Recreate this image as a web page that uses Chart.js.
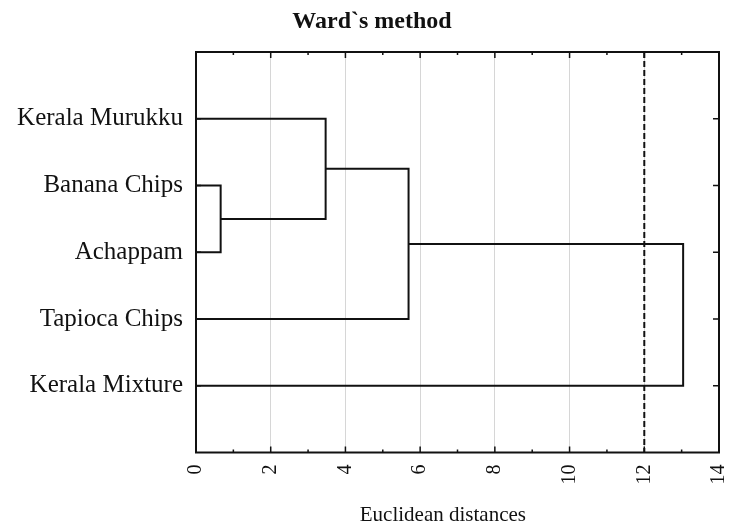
<!DOCTYPE html>
<html>
<head>
<meta charset="utf-8">
<script src="https://cdn.jsdelivr.net/npm/chart.js@4/dist/chart.umd.min.js"></script>
<style>
html,body{margin:0;padding:0;background:#fff;}
#wrap{width:730px;height:531px;position:relative;}
</style>
</head>
<body>
<div id="wrap"><canvas id="c" width="730" height="531"></canvas></div>
<script>
// ---- data ----
const leaves = ['Kerala Murukku', 'Banana Chips', 'Achappam', 'Tapioca Chips', 'Kerala Mixture'];
// merges (scipy-style: new clusters numbered after leaves)
const mergeLeft = [1, 0, 6, 7];
const mergeRight = [2, 5, 3, 4];
const mergeHeight = [0.66, 3.47, 5.69, 13.04];
const cutDistance = 12;
const xTicks = [0, 2, 4, 6, 8, 10, 12, 14];
const titleText = 'Ward`s method';
const xTitleText = 'Euclidean distances';

// ---- build dendrogram segments from the merge table ----
const nodeX = leaves.map(() => 0);
const nodeY = leaves.map((_, i) => i + 1);
const datasets = [];
for (let k = 0; k < mergeHeight.length; k++) {
  const a = mergeLeft[k], b = mergeRight[k], h = mergeHeight[k];
  datasets.push({
    data: [
      {x: nodeX[a], y: nodeY[a]},
      {x: h, y: nodeY[a]},
      {x: h, y: nodeY[b]},
      {x: nodeX[b], y: nodeY[b]}
    ],
    showLine: true, borderColor: '#111', borderWidth: 2, pointRadius: 0, tension: 0, fill: false
  });
  nodeX.push(h);
  nodeY.push((nodeY[a] + nodeY[b]) / 2);
}
datasets.push({
  data: [{x: cutDistance, y: 0}, {x: cutDistance, y: leaves.length + 1}],
  showLine: true, borderColor: '#111', borderWidth: 2, borderDash: [6, 3], pointRadius: 0, fill: false
});

const serif = '"Liberation Serif", "Times New Roman", serif';

const framePlugin = {
  id: 'frame',
  afterDatasetsDraw(chart) {
    const {ctx, chartArea: a, scales: {x, y}} = chart;
    ctx.save();
    ctx.strokeStyle = '#111';
    ctx.lineWidth = 2;
    ctx.strokeRect(a.left, a.top, a.right - a.left, a.bottom - a.top);
    ctx.lineWidth = 1.5;
    ctx.beginPath();
    for (let v = xTicks[0]; v <= xTicks[xTicks.length - 1]; v++) {
      const px = x.getPixelForValue(v);
      const len = (v % 2 === 0) ? 6 : 3;
      ctx.moveTo(px, a.bottom); ctx.lineTo(px, a.bottom - len);
      ctx.moveTo(px, a.top); ctx.lineTo(px, a.top + len);
    }
    leaves.forEach((_, i) => {
      const py = y.getPixelForValue(i + 1);
      ctx.moveTo(a.left, py); ctx.lineTo(a.left + 5, py);
      ctx.moveTo(a.right, py); ctx.lineTo(a.right - 6, py);
    });
    ctx.stroke();
    ctx.fillStyle = '#111';
    ctx.textAlign = 'center';
    ctx.textBaseline = 'middle';
    // chart title
    ctx.font = 'bold 24px ' + serif;
    ctx.fillText(titleText, 372, 22);
    // x-axis title
    ctx.font = '21px ' + serif;
    ctx.fillText(xTitleText, a.left + (a.right - a.left) * 0.472, 515);
    ctx.restore();
  }
};

new Chart(document.getElementById('c'), {
  type: 'scatter',
  data: {datasets},
  plugins: [framePlugin],
  options: {
    responsive: false,
    animation: false,
    layout: {padding: {left: 0, right: 11, top: 52, bottom: 0}},
    plugins: {
      legend: {display: false},
      tooltip: {enabled: false},
      title: {display: false}
    },
    scales: {
      x: {
        type: 'linear', min: xTicks[0], max: xTicks[xTicks.length - 1],
        afterBuildTicks: (s) => { s.ticks = xTicks.map(v => ({value: v})); },
        afterFit: (s) => { s.height = 78.5; s.paddingLeft = 0; s.paddingRight = 0; },
        ticks: {
          color: '#111', font: {family: serif, size: 20},
          minRotation: 90, maxRotation: 90, autoSkip: false, padding: 12
        },
        grid: {
          drawTicks: false, lineWidth: 1,
          color: (c) => (c.tick && c.tick.value > xTicks[0] && c.tick.value < xTicks[xTicks.length - 1]) ? '#d6d6d6' : 'rgba(0,0,0,0)'
        },
        border: {display: false}
      },
      y: {
        type: 'linear', min: 0, max: leaves.length + 1, reverse: true,
        afterBuildTicks: (s) => { s.ticks = leaves.map((_, i) => ({value: i + 1})); },
        afterFit: (s) => { s.width = 196; s.paddingTop = 0; s.paddingBottom = 0; },
        ticks: {
          color: '#111', font: {family: serif, size: 25}, padding: 13, autoSkip: false,
          callback: (v) => leaves[v - 1] || ''
        },
        grid: {display: false, drawTicks: false},
        border: {display: false}
      }
    }
  }
});
</script>
</body>
</html>
